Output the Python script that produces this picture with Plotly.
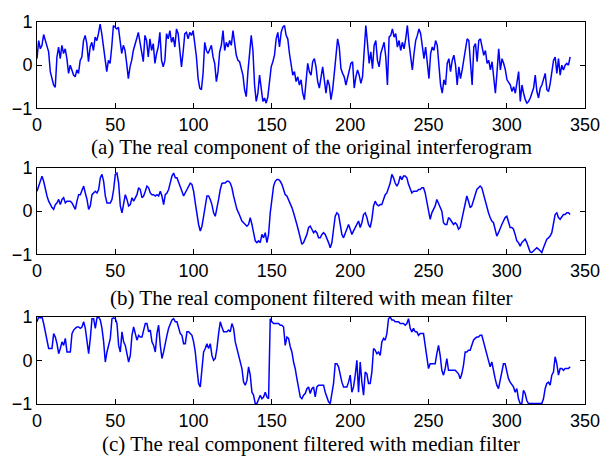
import numpy as np
import plotly.graph_objects as go

# Real component of the original interferogram (panel a)
amp_original = [
    0.15, 0.57, 0.38, 0.46, 0.71, 0.57, 0.42, 0.31, -0.15, -0.31, -0.46, -0.51, 0.19, 0.42, 0.15, 0.46, 0.27,
    0.38, 0.15, -0.19, 0.0, -0.11, -0.23, -0.27, -0.11, -0.19, 0.11, 0.19, 0.57, 0.69, 0.5, 0.08, 0.42,
    0.53, 0.34, 0.65, 0.57, 0.73, 0.95, 0.73, 0.42, 0.04, -0.15, 0.11, 0.04, 0.42, 0.92, 0.88, 0.84,
    0.88, 0.5, 0.27, 0.46, 0.34, 0.04, -0.31, -0.04, 0.11, 0.34, 0.46, 0.61, 0.76, 0.57, 0.31, 0.08,
    0.69, 0.57, 0.19, 0.61, 0.34, 0.5, 0.04, 0.27, 0.42, 0.76, 0.11, -0.04, 0.11, 0.73, 0.61, 0.8,
    0.53, 0.65, 0.42, 0.84,
    # 90 - 178
    0.73, 0.34, -0.04, 0.31, 0.73, 0.76, 0.61, 0.76, 0.69, 0.8, 0.5, 0.19, -0.31, -0.53, -0.57, -0.19,
    0.53, 0.34, 0.27, 0.38, 0.46, 0.19, 0.04, -0.38, -0.15, 0.31, 0.46, 0.8, 0.34, 0.53, 0.42, 0.57,
    0.46, 0.8, 0.5, 0.23, 0.11, 0.08, -0.08, -0.23, -0.57, -0.73, -0.15, 0.31, 0.69, 0.34, -0.46, -0.84,
    -0.65, -0.23, -0.61, -0.84, -0.76, -0.88, -0.73, -0.42, -0.04, 0.08, 0.23, 0.61, 0.76, 0.42, 0.76,
    0.88, 0.92, 0.69, 0.61, 0.27, -0.04, -0.23, -0.15, -0.38, -0.27, -0.46, -0.34, -0.65, -0.8, -0.42,
    0.04, -0.15, -0.23, 0.08, 0.15, -0.04,
    # 179 - 267
    -0.38, -0.53, -0.31, -0.04, -0.34, -0.65, -0.34, -0.46, -0.8, -0.57, -0.19, 0.19, 0.61, 0.42, -0.08,
    -0.19, -0.27, -0.46, -0.27, -0.08, 0.04, 0.08, -0.53, -0.27, -0.11, -0.23, -0.42, -0.27, 0.42, 0.92,
    0.5, 0.04, 0.31, -0.08, 0.46, 0.57, 0.11, -0.04, 0.27, 0.42, 0.53, 0.19, -0.46, 0.65, 0.69, 0.84,
    0.65, 0.73, 0.42, 0.57, 0.34, 0.53, 0.38, 0.61, 0.92, 0.5, 0.15, -0.11, 0.27, 0.57, 0.69, 0.84,
    0.73, 0.42, 0.15, 0.42, 0.04, -0.31, 0.27, 0.42, 0.34, 0.57, 0.46, -0.11, -0.46, -0.65, -0.34,
    -0.46, 0.04, 0.15, -0.15, 0.11, 0.23, 0.0,
    # 268 - 341
    -0.46, -0.04, -0.31, -0.11, 0.11, 0.31, 0.61, 0.57, -0.04, -0.46, 0.42, 0.5, 0.08, 0.57, 0.61, 0.38,
    0.23, 0.34, 0.04, 0.11, -0.11, 0.08, -0.31, -0.65, -0.15, 0.38, -0.11, 0.15, 0.04, -0.11, -0.34,
    -0.42, -0.46, -0.61, -0.5, -0.65, -0.42, -0.15, -0.84, -0.46, -0.65, -0.8, -0.88, -0.84, -0.76,
    -0.65, -0.53, -0.23, -0.61, -0.76, -0.53, -0.46, -0.34, -0.19, -0.57, -0.61, -0.42, -0.19, 0.11,
    0.19, -0.19, 0.15, -0.23, 0.0, -0.11, 0.0, 0.04, 0.0, 0.19,
]

# Filtered with mean filter (panel b)
amp_mean = [
    0.46, 0.58, 0.73, 0.81, 0.69, 0.5, 0.35, 0.23, 0.15, 0.08, 0.04, 0.15, 0.19, 0.27, 0.15, 0.27, 0.31,
    0.19, 0.23, 0.23, 0.23, 0.19, 0.12, 0.04, 0.23, 0.38, 0.38, 0.5, 0.58, 0.42, 0.27, 0.04, 0.12, 0.38,
    0.42, 0.46, 0.42, 0.5, 0.77, 0.85, 0.69, 0.35, 0.19, 0.19, 0.19, 0.27, 0.5, 0.85, 0.88, 0.65, 0.12,
    -0.04, 0.19, 0.38, 0.27, 0.12, 0.15, 0.31, 0.23, 0.31, 0.38, 0.54, 0.5, 0.31, 0.35, 0.46, 0.58,
    0.54, 0.42, 0.38, 0.38, 0.35, 0.38, 0.35, 0.46, 0.35, 0.15, 0.38, 0.42, 0.5, 0.65, 0.81, 0.88, 0.77,
    # 89 - 177
    0.77, 0.65, 0.54, 0.46, 0.35, 0.42, 0.5, 0.58, 0.65, 0.62, 0.46, 0.19, -0.12, -0.31, -0.46, -0.35,
    -0.12, 0.15, 0.35, 0.35, 0.27, 0.15, -0.04, -0.12, 0.04, 0.27, 0.5, 0.64, 0.65, 0.65, 0.69, 0.69,
    0.65, 0.54, 0.35, 0.15, 0.04, -0.04, -0.12, -0.23, -0.27, -0.31, -0.35, -0.31, -0.15, -0.31, -0.54,
    -0.69, -0.73, -0.69, -0.73, -0.54, -0.62, -0.5, -0.73, -0.54, -0.04, 0.35, 0.58, 0.69, 0.73, 0.73,
    0.69, 0.62, 0.5, 0.38, 0.35, 0.27, 0.19, 0.08, -0.04, -0.15, -0.31, -0.46, -0.65, -0.77, -0.73,
    -0.65, -0.54, -0.38, -0.35, -0.42, -0.5, -0.46,
    # 178 - 266
    -0.5, -0.62, -0.62, -0.54, -0.5, -0.54, -0.62, -0.73, -0.85, -0.73, -0.42, -0.12, -0.04, -0.08,
    -0.31, -0.54, -0.62, -0.5, -0.38, -0.31, -0.42, -0.54, -0.46, -0.38, -0.31, -0.23, -0.38, -0.27,
    -0.08, -0.04, -0.15, -0.31, -0.38, -0.19, 0.12, 0.23, 0.15, 0.12, 0.15, 0.15, 0.27, 0.38, 0.42,
    0.54, 0.65, 0.85, 0.77, 0.65, 0.58, 0.65, 0.81, 0.73, 0.81, 0.81, 0.77, 0.62, 0.5, 0.42, 0.46,
    0.46, 0.46, 0.5, 0.5, 0.54, 0.54, 0.42, 0.19, -0.04, -0.19, -0.04, 0.04, 0.12, 0.27, 0.19, 0.08,
    0.0, -0.27, -0.31, -0.31, -0.15, -0.19, -0.27, -0.31, -0.27,
    # 267 - 340
    -0.31, -0.42, -0.38, -0.19, 0.0, 0.23, 0.35, 0.23, 0.08, 0.12, 0.27, 0.38, 0.5, 0.54, 0.58, 0.54,
    0.38, 0.23, 0.12, -0.04, -0.15, -0.23, -0.27, -0.42, -0.58, -0.5, -0.38, -0.31, -0.23, -0.15,
    -0.12, -0.23, -0.38, -0.38, -0.42, -0.54, -0.69, -0.73, -0.81, -0.73, -0.69, -0.65, -0.73, -0.85,
    -0.95, -0.96, -0.92, -0.88, -0.85, -0.88, -0.92, -0.96, -0.85, -0.73, -0.65, -0.62, -0.58, -0.5,
    -0.31, -0.08, -0.04, -0.15, -0.19, -0.12, -0.08, -0.08, -0.04, -0.04, -0.08,
]

# Filtered with median filter (panel c)
amp_median = [
    0.88, 0.99, 0.97, 0.99, 0.84, 0.65, 0.42, 0.27, 0.27, 0.27, 0.61, 0.53, 0.38, 0.15, 0.27, 0.42, 0.34,
    0.5, 0.19, 0.19, 0.19, 0.61, 0.69, 0.73, 0.76, 0.76, 0.73, 0.76, 0.88, 0.73, 0.42, 0.15, 0.5, 0.95,
    0.95, 0.73, 0.97, 0.99, 0.92, 0.73, 0.42, -0.04, 0.19, 0.34, 0.5, 0.95, 0.97, 0.95, 0.84, 0.34,
    0.19, 0.65, 0.42, 0.34, 0.11, -0.04, 0.11, 0.57, 0.76, 0.57, 0.46, 0.57, 0.53, 0.53, 0.73, 0.84,
    0.84, 0.65, 0.69, 0.42, 0.34, 0.19, 0.61, 0.8, 0.34, 0.04, 0.19, 0.42, 0.57, 0.73, 0.84, 0.92,
    0.95, 0.88,
    # 90 - 178
    0.88, 0.73, 0.61, 0.57, 0.38, 0.38, 0.65, 0.65, 0.61, 0.57, 0.42, 0.19, -0.19, -0.53, -0.61, -0.19,
    0.19, 0.27, 0.38, 0.27, 0.38, 0.11, 0.0, 0.04, 0.27, 0.61, 0.88, 0.76, 0.65, 0.65, 0.65, 0.69, 0.65,
    0.84, 0.73, 0.42, 0.27, 0.11, -0.04, -0.19, -0.5, -0.57, -0.46, -0.15, -0.34, -0.73, -0.8, -0.99,
    -0.99, -0.88, -0.8, -0.88, -0.84, -0.73, -0.84, -0.88, 0.95, 0.88, 0.84, 0.84, 0.84, 0.84, 0.8,
    0.8, 0.76, 0.34, 0.53, 0.5, 0.31, 0.19, -0.04, -0.19, -0.42, -0.61, -0.84, -0.88, -0.8, -0.76,
    -0.65, -0.61, -0.76, -0.65, -0.61, -0.84,
    # 179 - 267
    -0.61, -0.57, -0.57, -0.57, -0.57, -0.73, -0.84, -0.95, -0.99, -0.8, -0.53, -0.08, -0.08, -0.15,
    -0.34, -0.5, -0.61, -0.61, -0.61, -0.5, -0.34, -0.73, -0.61, -0.34, 0.0, -0.73, -0.04, -0.5, -0.8,
    -0.27, -0.31, -0.53, -0.53, -0.27, 0.27, 0.23, 0.15, 0.19, 0.11, 0.42, 0.5, 0.46, 0.61, 0.95, 0.99,
    0.92, 0.92, 0.88, 0.88, 0.88, 0.84, 0.84, 0.84, 0.8, 0.84, 0.95, 0.73, 0.65, 0.73, 0.65, 0.65,
    0.57, 0.61, 0.61, 0.61, 0.34, 0.11, -0.19, -0.08, -0.08, -0.08, -0.08, 0.15, 0.34, 0.11, -0.23,
    -0.34, -0.19, 0.04, -0.23, -0.23, -0.23, -0.23, -0.23,
    # 268 - 340
    -0.27, -0.31, -0.42, -0.31, -0.11, 0.19, 0.19, 0.23, 0.23, 0.34, 0.46, 0.5, 0.53, 0.53, 0.57, 0.57,
    0.42, 0.27, 0.11, 0.0, -0.15, -0.04, -0.27, -0.42, -0.57, -0.65, -0.46, -0.23, -0.08, -0.08,
    -0.23, -0.42, -0.5, -0.57, -0.61, -0.73, -0.65, -0.88, -0.99, -0.99, -0.69, -0.76, -0.92, -0.99,
    -0.99, -0.99, -0.99, -0.99, -0.99, -0.99, -0.99, -0.99, -0.88, -0.65, -0.53, -0.5, -0.57, -0.34,
    -0.27, 0.08, -0.08, -0.34, -0.19, -0.19, -0.23, -0.19, -0.19, -0.19, -0.15,
]

x_ticks = [0, 50, 100, 150, 200, 250, 300, 350]
y_ticks = [-1, 0, 1]
captions = [
    "(a) The real component of the original interferogram",
    "(b) The real component filtered with mean filter",
    "(c) The real component filtered with median filter",
]
series = [amp_original, amp_mean, amp_median]

fig = go.Figure()
domains = [[0.774, 1.0], [0.392, 0.618], [0.0, 0.229]]
caption_y = [0.673, 0.278, -0.104]

for i, vals in enumerate(series):
    n = len(vals)
    xs = np.linspace(0, 340.5, n)
    suffix = "" if i == 0 else str(i + 1)
    fig.add_trace(go.Scatter(
        x=xs, y=vals, mode="lines",
        line=dict(color="#0000ff", width=1.5),
        xaxis="x" + suffix, yaxis="y" + suffix, showlegend=False,
    ))
    axis_common = dict(
        showline=True, linecolor="black", linewidth=1, mirror="ticks",
        ticks="inside", ticklen=5, tickcolor="black", tickwidth=1,
        showgrid=False, zeroline=False,
        tickfont=dict(family="Liberation Sans, Arial, sans-serif", size=18, color="black"),
    )
    fig.layout["xaxis" + suffix] = dict(
        axis_common, range=[0, 350], tickvals=x_ticks, anchor="y" + suffix,
        domain=[0, 1],
    )
    fig.layout["yaxis" + suffix] = dict(
        axis_common, range=[-1, 1], tickvals=y_ticks, anchor="x" + suffix,
        domain=domains[i],
    )
    fig.add_annotation(
        text=captions[i], xref="paper", yref="paper", x=0.5, y=caption_y[i],
        showarrow=False, xanchor="center", yanchor="middle",
        font=dict(family="Liberation Serif, Times New Roman, serif", size=21, color="black"),
    )

fig.update_layout(
    width=613, height=457,
    margin=dict(l=35, r=28, t=19, b=53),
    paper_bgcolor="white", plot_bgcolor="white",
)

fig.write_html("out.html")
